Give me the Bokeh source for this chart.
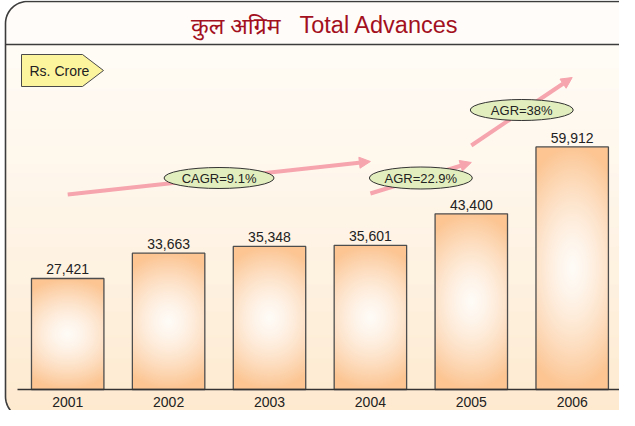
import numpy as np
from bokeh.plotting import figure
from bokeh.models import Range1d, ColumnDataSource, Arrow, NormalHead
from bokeh.core.properties import value
from bokeh.embed import file_html
from bokeh.resources import INLINE

# ---------------- data ----------------
years = ["2001", "2002", "2003", "2004", "2005", "2006"]
advances = [27421, 33663, 35348, 35601, 43400, 59912]
growth_labels = ["CAGR=9.1%", "AGR=22.9%", "AGR=38%"]
growth_from = ["2001", "2004", "2005"]
growth_to = ["2004", "2005", "2006"]
title_hindi = "कुल अग्रिम"
title_english = "Total Advances"
unit_label = "Rs. Crore"

# ---------------- layout / style ----------------
W, H = 619, 410
DY = 7             # vertical shift of the layout (px)
SLOT = 100.9       # px per category
FIRST = 67.2       # x of first category centre
PER_PX = 247.0     # value units per pixel
BASE = 396.0       # layout y of zero
BAR_W = 0.718
FONT = value("Liberation Sans")
TXT = "#222222"
PINK = "#f6a4ad"

xr = Range1d((0 - FIRST) / SLOT, (W - FIRST) / SLOT)
yr = Range1d((BASE - (DY + H)) * PER_PX, (BASE - DY) * PER_PX)

p = figure(width=W, height=H, x_range=xr, y_range=yr, output_backend="svg",
           toolbar_location=None, min_border=0, x_axis_type=None, y_axis_type=None,
           background_fill_color="white", border_fill_color="white")
p.outline_line_color = None
p.grid.visible = False
p.extra_x_ranges = {"px": Range1d(0, W)}
p.extra_y_ranges = {"px": Range1d(DY + H, DY)}
PX = dict(x_range_name="px", y_range_name="px")

# ---------------- frame background ----------------
L, T, R, B, RAD = 5, 8, 640, 425, 22
SEP = 51


def edge(yc, left=True):
    if yc < T + RAD:
        dy = T + RAD - yc
    elif yc > B - RAD:
        dy = yc - (B - RAD)
    else:
        return L if left else R
    dx = RAD - np.sqrt(max(RAD ** 2 - dy ** 2, 0))
    return L + dx if left else R - dx


c_title = np.array([255, 252, 248])
c_top = np.array([255, 250, 242])
c_bot = np.array([253, 226, 190])
lefts, rights, tops, bots, cols = [], [], [], [], []
for y in range(T, DY + H):
    yc = y + 0.5
    lefts.append(edge(yc, True)); rights.append(edge(yc, False))
    tops.append(y); bots.append(y + 1)
    if y < SEP:
        c = c_title
    else:
        t = min(max((yc - SEP) / (B - SEP), 0), 1) ** 1.3
        c = c_top + (c_bot - c_top) * t
    cols.append("#%02x%02x%02x" % tuple(int(round(v)) for v in c))
p.quad(left=lefts, right=rights, top=tops, bottom=bots, fill_color=cols, line_color=None, **PX)

# frame outline
fx, fy = [], []
for cx, cy, a0 in [(L + RAD, T + RAD, 180), (R - RAD, T + RAD, 270), (R - RAD, B - RAD, 0), (L + RAD, B - RAD, 90)]:
    a = np.radians(np.linspace(a0, a0 + 90, 20))
    fx += list(cx + RAD * np.cos(a)); fy += list(cy + RAD * np.sin(a))
fx.append(fx[0]); fy.append(fy[0])
p.line(fx, fy, line_color="#3c3c3c", line_width=1.6, **PX)
p.line([L, R], [SEP, SEP], line_color="#3c3c3c", line_width=1.6, **PX)

# ---------------- title ----------------
p.text(x=[280], y=[31], text=[title_hindi], text_align="right", text_baseline="middle",
       text_font=value("Noto Sans"), text_font_size="23px", text_color="#a3101e", **PX)
p.text(x=[299], y=[31], text=[title_english], text_align="left", text_baseline="middle",
       text_font=FONT, text_font_size="23.5px", text_color="#a3101e", **PX)

# ---------------- unit tag ----------------
p.patch([21, 82, 103, 82, 21], [61, 61, 77, 93, 93], fill_color="#fdf49e",
        line_color="#4a4a4a", line_width=1, **PX)
p.text(x=[29], y=[77], text=[unit_label], text_align="left", text_baseline="middle",
       text_font=FONT, text_font_size="14px", text_color=TXT, **PX)

# ---------------- bars ----------------
idx = list(range(len(years)))
pos = {yv: i for i, yv in enumerate(years)}


def bar_image(val, cols=72):
    rows = max(int(round(val / PER_PX)), 2)
    v = (np.arange(rows) + 0.5) / rows * 2 - 1
    u = (np.arange(cols) + 0.5) / cols * 2 - 1
    U, V = np.meshgrid(u, v)
    r = np.sqrt((U / 1.7) ** 2 + V ** 2)
    t = np.clip(r, 0, 1) ** 1.45
    peach = np.array([252, 197, 146]); white = np.array([255, 251, 246])
    c = white + (peach - white) * t[..., None]
    img = np.empty((rows, cols), dtype=np.uint32)
    view = img.view(dtype=np.uint8).reshape((rows, cols, 4))
    view[..., 0] = c[..., 0]; view[..., 1] = c[..., 1]; view[..., 2] = c[..., 2]; view[..., 3] = 255
    return img


p.image_rgba(image=[bar_image(v) for v in advances], x=[i - BAR_W / 2 for i in idx],
             y=[0] * len(idx), dw=[BAR_W] * len(idx), dh=advances)
p.vbar(x=idx, top=advances, width=BAR_W, bottom=0, fill_color=None,
       line_color="#4d4d4d", line_width=1.3)
p.segment(x0=[17], x1=[623], y0=[0], y1=[0], line_color="#333333", line_width=1.6, x_range_name="px")

p.text(x=idx, y=advances, text=[f"{v:,}" for v in advances], text_align="center",
       text_baseline="middle", y_offset=-9, text_font=FONT, text_font_size="14px", text_color=TXT)
p.text(x=idx, y=[0] * len(idx), text=years, text_align="center", text_baseline="middle",
       y_offset=12, text_font=FONT, text_font_size="14px", text_color=TXT)

# ---------------- growth arrows ----------------
g_x0 = [pos[a] for a in growth_from]
g_x1 = [pos[b] for b in growth_to]
g_y0 = [201, 200, 152]   # layout levels (decorative)
g_y1 = [168, 169, 84]
asrc = ColumnDataSource(dict(x0=g_x0, x1=g_x1, y0=g_y0, y1=g_y1))
p.add_layout(Arrow(source=asrc, x_start="x0", y_start="y0", x_end="x1", y_end="y1",
                   line_color=PINK, line_width=4, y_range_name="px",
                   end=NormalHead(size=11, fill_color=PINK, line_color=PINK, line_width=1)))

mx = [(a + b) / 2 for a, b in zip(g_x0, g_x1)]
my = [(a + b) / 2 - d for a, b, d in zip(g_y0, g_y1, [0, 0, 1.5])]
ell = p.ellipse(x=mx, y=my, width=[110, 103, 103], height=[21, 22, 21],
                width_units="screen", height_units="screen", fill_color="#e3eebf",
                line_color="#333333", line_width=1, y_range_name="px")
ell.level = "overlay"
gt = p.text(x=mx, y=my, text=growth_labels, text_align="center", text_baseline="middle",
            text_font=FONT, text_font_size="13px", text_color=TXT, y_range_name="px")
gt.level = "overlay"

open("out.html", "w").write(file_html(p, INLINE))
